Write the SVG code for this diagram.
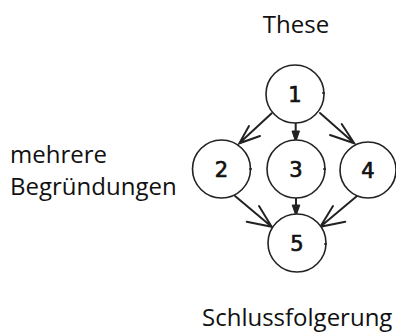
<svg xmlns="http://www.w3.org/2000/svg" width="396" height="334" viewBox="0 0 396 334">
<style>
.c{fill:#fff;stroke:#222;stroke-width:1.6}
.t{fill:#222;stroke:#222;stroke-width:1.4}
.n{font-family:"DejaVu Sans",sans-serif;font-size:21px;fill:#111;stroke:#111;stroke-width:0.7;text-anchor:middle}
.l{font-family:"Open Sans",sans-serif;font-size:24px;fill:#111}
.e{fill:none;stroke:#222;stroke-width:2;stroke-linecap:round}
.h{fill:#222;stroke:#222;stroke-width:1}
</style>
<rect width="396" height="334" fill="#fff"/>
<g id="connectors">
<path class="e" d="M271.7,113.3 L239.3,143.3 M249,126 L239.3,143.3 L260,136"/>
<path class="e" d="M320,113 L354.3,143.3 M341.7,124 L354.3,143.3 L330,135"/>
<path class="e" d="M235,196 L271.7,226.7 M259,206 L271.7,226.7 L246.7,221.7"/>
<path class="e" d="M357,196 L320.3,226.7 M333,206 L320.3,226.7 L345.3,221.7"/>
<path class="e" d="M295.7,123 L295.7,133"/>
<path class="h" d="M292,131 L299.5,131 L295.7,142 Z"/>
<path class="e" d="M296,198 L296,207"/>
<path class="h" d="M292.2,205 L299.8,205 L296,216 Z"/>
</g>
<g id="n1"><circle class="c" cx="295" cy="94" r="29"/><line class="t" x1="322" y1="93" x2="325" y2="93"/><text class="n" x="295" y="102">1</text></g>
<g id="n2"><circle class="c" cx="221.5" cy="169" r="29"/><line class="t" x1="249" y1="169" x2="252" y2="169"/><text class="n" x="221.5" y="177">2</text></g>
<g id="n3"><circle class="c" cx="296" cy="169" r="29"/><line class="t" x1="323" y1="169" x2="326" y2="169"/><text class="n" x="296" y="177">3</text></g>
<g id="n4"><circle class="c" cx="368" cy="170" r="28"/><text class="n" x="368" y="178">4</text></g>
<g id="n5"><circle class="c" cx="297" cy="243" r="29"/><line class="t" x1="324" y1="244" x2="327" y2="244"/><text class="n" x="297" y="251">5</text></g>
<g id="labels">
<text class="l" x="296" y="33" text-anchor="middle">These</text>
<text class="l" x="10" y="163">mehrere</text>
<text class="l" x="10" y="195">Begründungen</text>
<text class="l" x="202" y="326">Schlussfolgerung</text>
</g>
</svg>
